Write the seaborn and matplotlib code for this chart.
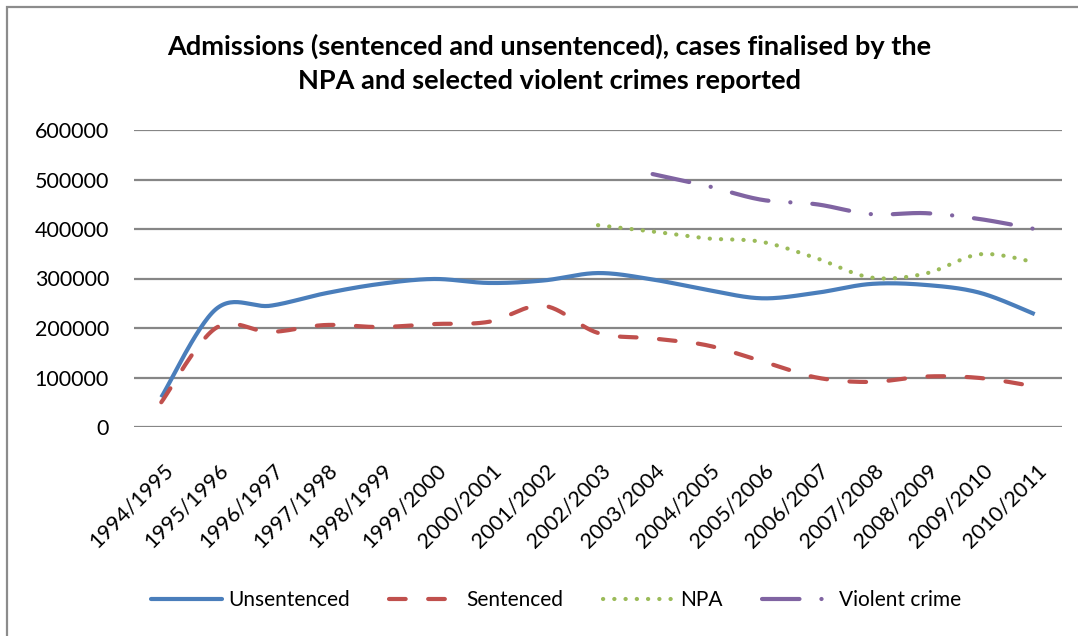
import numpy as np
import pandas as pd
import matplotlib
matplotlib.use("Agg")
import matplotlib.pyplot as plt
from matplotlib.lines import Line2D
from matplotlib.patches import Rectangle
import seaborn as sns

# ---------------- data ----------------
years = ["1994/1995", "1995/1996", "1996/1997", "1997/1998", "1998/1999",
         "1999/2000", "2000/2001", "2001/2002", "2002/2003", "2003/2004",
         "2004/2005", "2005/2006", "2006/2007", "2007/2008", "2008/2009",
         "2009/2010", "2010/2011"]
unsentenced = [60000, 238000, 245000, 270000, 289000, 299000, 291000, 296000,
               311000, 298000, 277000, 260000, 271000, 289000, 287000, 271000, 228000]
sentenced = [50000, 200000, 192000, 206000, 202000, 208000, 212500, 245000,
             190000, 179000, 165000, 133000, 100000, 91000, 102000, 99000, 82000]
npa = [None] * 8 + [407700, 395000, 381000, 374000, 341000, 302000, 310000, 349000, 333000]
violent = [None] * 9 + [511000, 487000, 459000, 450000, 430000, 432000, 420000, 400000]
y_ticks = [0, 100000, 200000, 300000, 400000, 500000, 600000]

title = "Admissions (sentenced and unsentenced), cases finalised by the\nNPA and selected violent crimes reported"

# ---------------- styling ----------------
sns.set_theme(style="white")
plt.rcParams["font.family"] = ["Lato", "DejaVu Sans"]
plt.rcParams["text.color"] = "black"
plt.rcParams["xtick.color"] = "black"
plt.rcParams["ytick.color"] = "black"

W, H = 1078, 636
fig = plt.figure(figsize=(W / 100, H / 100), dpi=100)
ax = fig.add_axes([134 / W, 1 - 427 / H, (1062 - 134) / W, (427 - 130) / H])

# outer chart frame (extends beyond the image on right/bottom)
fig.patches.append(Rectangle((7 / W, -0.2), 1.2, 1 - 7 / H + 0.2, transform=fig.transFigure,
                             fill=False, edgecolor="#8c8c8c", linewidth=1.6, zorder=0))


def smooth(xs, ys, n=30):
    """Excel-style smoothed curve (cubic Bezier through points)."""
    xs = np.asarray(xs, float)
    ys = np.asarray(ys, float)
    m = len(xs)
    if m < 2:
        return xs, ys
    px = np.concatenate([[xs[0]], xs, [xs[-1]]])
    py = np.concatenate([[ys[0]], ys, [ys[-1]]])
    outx, outy = [], []
    t = np.linspace(0, 1, n, endpoint=False)
    for i in range(1, m):
        p0 = np.array([px[i - 1], py[i - 1]])
        p1 = np.array([px[i], py[i]])
        p2 = np.array([px[i + 1], py[i + 1]])
        p3 = np.array([px[i + 2], py[i + 2]])
        c1 = p1 + (p2 - p0) / 6
        c2 = p2 - (p3 - p1) / 6
        b = ((1 - t) ** 3)[:, None] * p1 + (3 * (1 - t) ** 2 * t)[:, None] * c1 + \
            (3 * (1 - t) * t ** 2)[:, None] * c2 + (t ** 3)[:, None] * p2
        outx.extend(b[:, 0])
        outy.extend(b[:, 1])
    outx.append(xs[-1])
    outy.append(ys[-1])
    return np.array(outx), np.array(outy)


series = [
    ("Unsentenced", unsentenced, "#4A7EBB", None),
    ("Sentenced", sentenced, "#C0504D", (4, 5.4)),
    ("NPA", npa, "#9BBB59", (0.05, 2.65)),
    ("Violent crime", violent, "#8064A2", (9, 5.25, 0.05, 5.25)),
]

lw = 3.0
handles = []
for name, vals, color, dash in series:
    idx = [i for i, v in enumerate(vals) if v is not None]
    xv = [i for i in idx]
    yv = [vals[i] for i in idx]
    sx, sy = smooth(xv, yv)
    df = pd.DataFrame({"x": sx, "y": sy})
    sns.lineplot(data=df, x="x", y="y", ax=ax, color=color, linewidth=lw,
                 sort=False, estimator=None)
    ln = ax.lines[-1]
    ln.set_solid_capstyle("butt")
    if dash is not None:
        ln.set_dashes(dash)
        ln.set_dash_capstyle("round")
    h = Line2D([], [], color=color, linewidth=lw, solid_capstyle="round")
    if dash is not None:
        h.set_dashes(dash)
        h.set_dash_capstyle("round")
    handles.append((h, name))

ax.set_xlim(-0.5, len(years) - 0.5)
ax.set_ylim(0, 600000)
ax.set_yticks(y_ticks)
ax.set_yticklabels([str(v) for v in y_ticks], fontsize=15.5)
ax.set_xticks(range(len(years)))
ax.set_xticklabels(years, fontsize=15.5, rotation=45, ha="right", va="top",
                   rotation_mode="anchor")
ax.tick_params(axis="x", length=0, pad=24)
ax.tick_params(axis="y", length=0, pad=18)
for lab in ax.get_xticklabels():
    lab.set_transform(lab.get_transform() + matplotlib.transforms.ScaledTranslation(2 / 100, 0, fig.dpi_scale_trans))
ax.grid(axis="y", color="#868686", linewidth=1.6)
ax.set_axisbelow(True)
for s in ax.spines.values():
    s.set_visible(False)
ax.set_xlabel("")
ax.set_ylabel("")

fig.text(549 / W, 1 - 63 / H, title, ha="center", va="center", fontsize=19.5,
         fontweight="bold", linespacing=1.5, color="black")

leg = fig.legend([h for h, _ in handles], [n for _, n in handles],
                 loc="center", bbox_to_anchor=(556 / W, 1 - 600 / H), ncol=4,
                 frameon=False, fontsize=15, handlelength=3.4, columnspacing=1.9,
                 handletextpad=0.3)

fig.savefig("out.png", dpi=100)
